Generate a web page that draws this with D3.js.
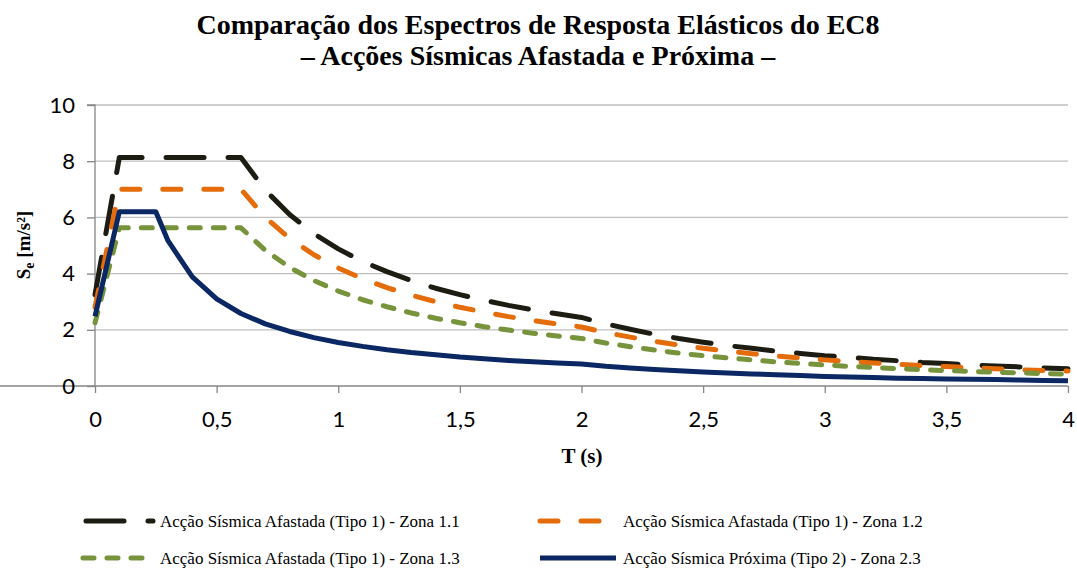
<!DOCTYPE html>
<html><head><meta charset="utf-8">
<script src="https://cdn.jsdelivr.net/npm/d3@7"></script>
<style>body{margin:0;background:#fff}svg{display:block}</style>
</head><body>
<svg id="chart" width="1077" height="571"></svg>
<script>
const periods = [0,0.1,0.2,0.25,0.3,0.4,0.5,0.6,0.7,0.8,0.9,1.0,1.1,1.2,1.3,1.4,1.5,1.6,1.7,1.8,1.9,2.0,2.1,2.2,2.3,2.4,2.5,2.6,2.7,2.8,2.9,3.0,3.1,3.2,3.3,3.4,3.5,3.6,3.7,3.8,3.9,4.0];
const zona11 = [3.25,8.13,8.13,8.13,8.13,8.13,8.13,8.13,6.97,6.10,5.42,4.88,4.43,4.07,3.75,3.48,3.25,3.05,2.87,2.71,2.57,2.44,2.21,2.02,1.84,1.69,1.56,1.44,1.34,1.24,1.16,1.08,1.02,0.95,0.90,0.84,0.80,0.75,0.71,0.68,0.64,0.61];
const zona12 = [2.80,7.00,7.00,7.00,7.00,7.00,7.00,7.00,6.00,5.25,4.67,4.20,3.82,3.50,3.23,3.00,2.80,2.63,2.47,2.33,2.21,2.10,1.90,1.74,1.59,1.46,1.34,1.24,1.15,1.07,1.00,0.93,0.87,0.82,0.77,0.73,0.69,0.65,0.61,0.58,0.55,0.53];
const zona13 = [2.25,5.63,5.63,5.63,5.63,5.63,5.63,5.63,4.83,4.22,3.75,3.38,3.07,2.82,2.60,2.41,2.25,2.11,1.99,1.88,1.78,1.69,1.53,1.40,1.28,1.17,1.08,1.00,0.93,0.86,0.80,0.75,0.70,0.66,0.62,0.58,0.55,0.52,0.49,0.47,0.44,0.42];
const zona23 = [2.48,6.20,6.20,6.20,5.17,3.88,3.10,2.58,2.21,1.94,1.72,1.55,1.41,1.29,1.19,1.11,1.03,0.97,0.91,0.86,0.82,0.78,0.70,0.64,0.59,0.54,0.50,0.46,0.43,0.40,0.37,0.34,0.32,0.30,0.28,0.27,0.25,0.24,0.23,0.21,0.20,0.19];
const seriesNames = ["Acção Sísmica Afastada (Tipo 1) - Zona 1.1","Acção Sísmica Afastada (Tipo 1) - Zona 1.2","Acção Sísmica Afastada (Tipo 1) - Zona 1.3","Acção Sísmica Próxima (Tipo 2) - Zona 2.3"];
const xTicks = [0,0.5,1,1.5,2,2.5,3,3.5,4];
const yTicks = [0,2,4,6,8,10];
const titleLines = ["Comparação dos Espectros de Resposta Elásticos do EC8","– Acções Sísmicas Afastada e Próxima –"];

const series = [
  {name:seriesNames[0], values:zona11, color:"#1d1c12", dash:"38,24"},
  {name:seriesNames[1], values:zona12, color:"#e46c0a", dash:"18,23"},
  {name:seriesNames[2], values:zona13, color:"#77933c", dash:"11,13"},
  {name:seriesNames[3], values:zona23, color:"#0b2764", dash:null}
];

const svg = d3.select("#chart");
const x = d3.scaleLinear().domain([0,4]).range([95,1068]);
const y = d3.scaleLinear().domain([0,10]).range([386,105]);

// title
svg.append("g").selectAll("text").data(titleLines).join("text")
  .attr("x",538).attr("y",(d,i)=>34+i*31)
  .attr("text-anchor","middle")
  .style("font-family","'Liberation Serif','Times New Roman',serif")
  .style("font-weight","bold").style("font-size","28px").style("fill","#000")
  .text(d=>d);

// gridlines
svg.append("g").selectAll("line").data(yTicks.filter(d=>d>0)).join("line")
  .attr("x1",x(0)).attr("x2",x(4)).attr("y1",d=>y(d)).attr("y2",d=>y(d))
  .attr("stroke","#bfbfbf").attr("stroke-width",1.3);

// axes
const xAxis = svg.append("g").attr("transform",`translate(0,${y(0)})`)
  .call(d3.axisBottom(x).tickValues(xTicks).tickSize(7).tickPadding(18)
    .tickFormat(d=>String(d).replace(".",",")));
const yAxis = svg.append("g").attr("transform",`translate(${x(0)},0)`)
  .call(d3.axisLeft(y).tickValues(yTicks).tickSize(8).tickPadding(12));
[xAxis,yAxis].forEach(a=>{
  a.select(".domain").attr("stroke","#868686").attr("stroke-width",1.3);
  a.selectAll(".tick line").attr("stroke","#868686").attr("stroke-width",1.3);
  a.selectAll(".tick text").style("font-family","Lato,'Open Sans',sans-serif")
    .style("font-size","22px").style("fill","#000");
});
yAxis.select(".domain").attr("d",`M-8,${y(10)}H0V${y(0)}`);
xAxis.select(".domain").attr("d",`M0,0H${x(4)}`);

// lines
const line = d3.line().x((d,i)=>x(periods[i])).y(d=>y(d));
svg.append("g").selectAll("path").data(series).join("path")
  .attr("d",d=>line(d.values)).attr("fill","none")
  .attr("stroke",d=>d.color).attr("stroke-width",5)
  .attr("stroke-linecap",d=>d.dash?"round":"butt").attr("stroke-linejoin","round")
  .attr("stroke-dasharray",d=>d.dash);

// axis titles
svg.append("text").attr("x",582).attr("y",463).attr("text-anchor","middle")
  .style("font-family","'Liberation Serif',serif").style("font-weight","bold").style("font-size","21px")
  .text("T (s)");
const yl = svg.append("text").attr("transform","translate(30,245) rotate(-90)").attr("text-anchor","middle")
  .style("font-family","'Liberation Serif',serif").style("font-weight","bold").style("font-size","19px");
yl.append("tspan").text("S");
yl.append("tspan").attr("dy",4).style("font-size","14px").text("e");
yl.append("tspan").attr("dy",-4).text(" [m/s²]");

// legend
const legPos = [[83,521],[540,521],[83,558],[540,558]];
const leg = svg.append("g").selectAll("g").data(series).join("g")
  .attr("transform",(d,i)=>`translate(${legPos[i][0]},${legPos[i][1]})`);
leg.append("line").attr("x1",(d,i)=>i===0?3:0).attr("x2",(d,i)=>i%2?76:70).attr("y1",0).attr("y2",0)
  .attr("stroke",d=>d.color).attr("stroke-width",5)
  .attr("stroke-linecap",d=>d.dash?"round":"butt")
  .attr("stroke-dasharray",d=>d.dash);
leg.append("text").attr("x",(d,i)=>i%2?83:77).attr("y",6)
  .style("font-family","'Liberation Serif',serif").style("font-size","17px").style("fill","#000")
  .text(d=>d.name);
</script>
</body></html>
